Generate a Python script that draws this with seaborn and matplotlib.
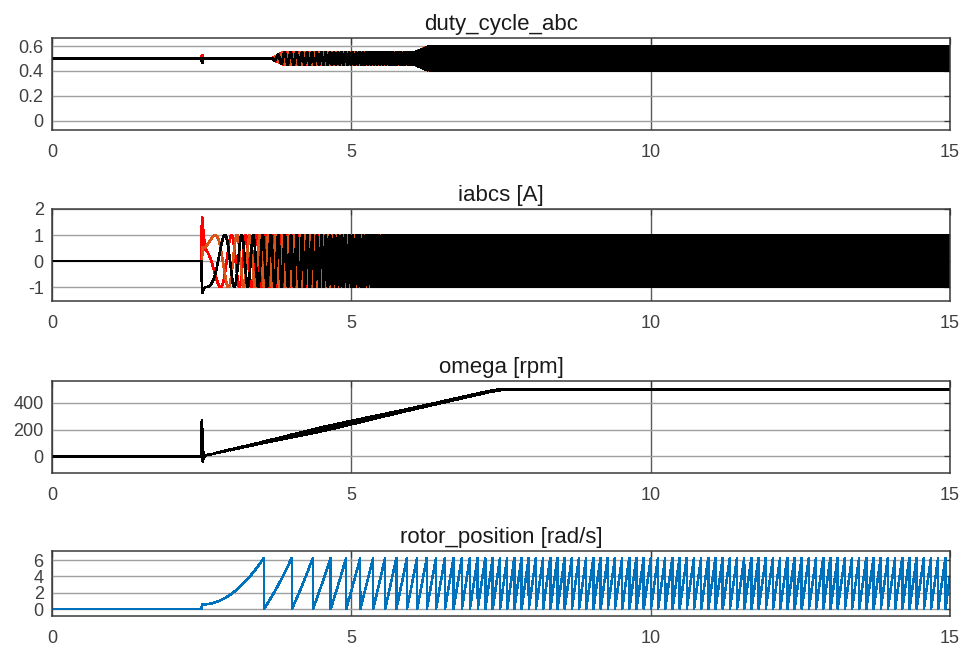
import numpy as np
import matplotlib
matplotlib.use("Agg")
import matplotlib.pyplot as plt
import seaborn as sns

# ---- signal description -------------------------------------------------
T_END = 15.0
DT = 0.001          # integration step
DT_LOG_FAST = 0.002 # logging step for currents and duty cycles
POLE_PAIRS = 4

# rotor speed profile [rpm] (start-up kick at 2.5 s, ramp to 500 rpm)
OMEGA_T = [0.0, 2.499, 2.505, 2.512, 2.52, 2.53, 2.54, 2.55, 7.3, 7.5, 15.0]
OMEGA_RPM = [0.0, 0.0, 270.0, 130.0, -40.0, 30.0, -15.0, 5.0, 485.0, 500.0, 500.0]

# speed ripple envelope [rpm]
RIPPLE_T = [0.0, 2.55, 3.5, 4.0, 4.5, 5.0, 5.5, 6.0, 6.5, 7.5, 15.0]
RIPPLE_AMP = [0.0, 2.0, 4.0, 10.0, 15.0, 13.0, 9.0, 6.0, 5.0, 4.0, 4.0]

# position step at start-up [rad]
POS_STEP_T = 2.5
POS_STEP = 0.3

# phase current amplitude [A] and start-up overshoot
CUR_T = [0.0, 2.499, 2.5, 15.0]
CUR_AMP = [0.0, 0.0, 1.0, 1.0]
KICK_T = [0.0, 2.499, 2.51, 2.53, 2.56, 15.0]
KICK_A = [0.0, 0.0, 1.0, 0.6, 0.0, 0.0]
KICK_C = [0.0, 0.0, -0.25, -0.1, 0.0, 0.0]

# duty cycle modulation depth around 0.5
DUTY_T = [0.0, 3.66, 3.85, 6.05, 6.3, 15.0]
DUTY_AMP = [0.0, 0.0, 0.05, 0.05, 0.1, 0.1]
BLIP_T = [0.0, 2.49, 2.51, 2.53, 15.0]
BLIP_A = [0.0, 0.0, 0.03, 0.0, 0.0]
BLIP_C = [0.0, 0.0, -0.035, 0.0, 0.0]

X_TICKS = [0, 5, 10, 15]
TITLES = ["duty_cycle_abc", "iabcs [A]", "omega [rpm]", "rotor_position [rad/s]"]

# ---- build the traces -----------------------------------------------------
t = np.arange(0.0, T_END + DT, DT)
omega_base = np.interp(t, OMEGA_T, OMEGA_RPM)
theta_m = np.cumsum(omega_base * 2 * np.pi / 60.0) * DT
theta_e = POLE_PAIRS * theta_m
position = np.mod(theta_m + POS_STEP * (t >= POS_STEP_T), 2 * np.pi)

omega = omega_base + np.interp(t, RIPPLE_T, RIPPLE_AMP) * np.sin(6 * theta_e)

shift = 2 * np.pi / 3
amp = np.interp(t, CUR_T, CUR_AMP)
i_a = amp * np.cos(theta_e) + np.interp(t, KICK_T, KICK_A)
i_b = amp * np.cos(theta_e - shift)
i_c = amp * np.cos(theta_e + shift) + np.interp(t, KICK_T, KICK_C)

damp = np.interp(t, DUTY_T, DUTY_AMP)
d_a = 0.5 + damp * np.cos(theta_e + 0.3) + np.interp(t, BLIP_T, BLIP_A)
d_b = 0.5 + damp * np.cos(theta_e + 0.3 - shift)
d_c = 0.5 + damp * np.cos(theta_e + 0.3 + shift) + np.interp(t, BLIP_T, BLIP_C)


def log_mask(dt_log):
    """Scope decimation that still keeps the fast start-up transient."""
    m = np.zeros(t.size, dtype=bool)
    m[::int(round(dt_log / DT))] = True
    m[(t >= 2.49) & (t <= 2.57)] = True
    return m


fast = log_mask(DT_LOG_FAST)
full = np.ones(t.size, dtype=bool)

# ---- figure --------------------------------------------------------------
sns.set_style("white")
plt.rcParams["font.family"] = ["Liberation Sans", "DejaVu Sans"]

RED = "#FF0000"
ORANGE = "#D95319"
BLACK = "#000000"
BLUE = "#0072BD"

fig = plt.figure(figsize=(9.64, 6.46), dpi=100, facecolor="white")
boxes = [
    [0.0539, 0.7988, 0.9315, 0.1424],
    [0.0539, 0.5333, 0.9315, 0.1432],
    [0.0539, 0.2683, 0.9315, 0.1420],
    [0.0539, 0.0464, 0.9315, 0.1006],
]
axes = [fig.add_axes(b) for b in boxes]


def trace(ax, y, color, mask, lw=1.2):
    sns.lineplot(x=t[mask], y=y[mask], ax=ax, color=color, lw=lw,
                 estimator=None, errorbar=None, sort=False, legend=False,
                 antialiased=False)


for y, c in [(d_a, RED), (d_b, ORANGE), (d_c, BLACK)]:
    trace(axes[0], y, c, fast)
for y, c in [(i_a, RED), (i_b, ORANGE), (i_c, BLACK)]:
    trace(axes[1], y, c, fast)
trace(axes[2], omega, BLACK, full, lw=1.3)
trace(axes[3], position, BLUE, full, lw=1.1)

ylims = [(-0.075, 0.665), (-1.55, 2.0), (-123, 565), (-0.85, 7.1)]
yticks = [[0, 0.2, 0.4, 0.6], [-1, 0, 1, 2], [0, 200, 400], [0, 2, 4, 6]]
ylabels = [["0", "0.2", "0.4", "0.6"], ["-1", "0", "1", "2"],
           ["0", "200", "400"], ["0", "2", "4", "6"]]

for ax, title, yl, yt, ytl in zip(axes, TITLES, ylims, yticks, ylabels):
    ax.set_xlim(0, T_END)
    ax.set_ylim(*yl)
    ax.set_xticks(X_TICKS)
    ax.set_xticklabels([str(v) for v in X_TICKS])
    ax.set_yticks(yt)
    ax.set_yticklabels(ytl)
    ax.set_xlabel("")
    ax.set_ylabel("")
    ax.set_title(title, fontsize=16, color="#1a1a1a", pad=6)
    ax.set_axisbelow(True)
    ax.grid(True, axis="y", color="#a0a0a0", lw=1.0)
    ax.grid(True, axis="x", color="#5a5a5a", lw=1.0)
    for s in ax.spines.values():
        s.set_visible(True)
        s.set_color("#3a3a3a")
        s.set_linewidth(1.1)
    ax.tick_params(axis="both", direction="in", length=4, width=0.9,
                   color="#3a3a3a", labelsize=13, labelcolor="#404040",
                   top=True, right=True)
    ax.tick_params(axis="x", pad=10)
    ax.tick_params(axis="y", pad=6)

fig.savefig("out.png", dpi=100, facecolor="white")
